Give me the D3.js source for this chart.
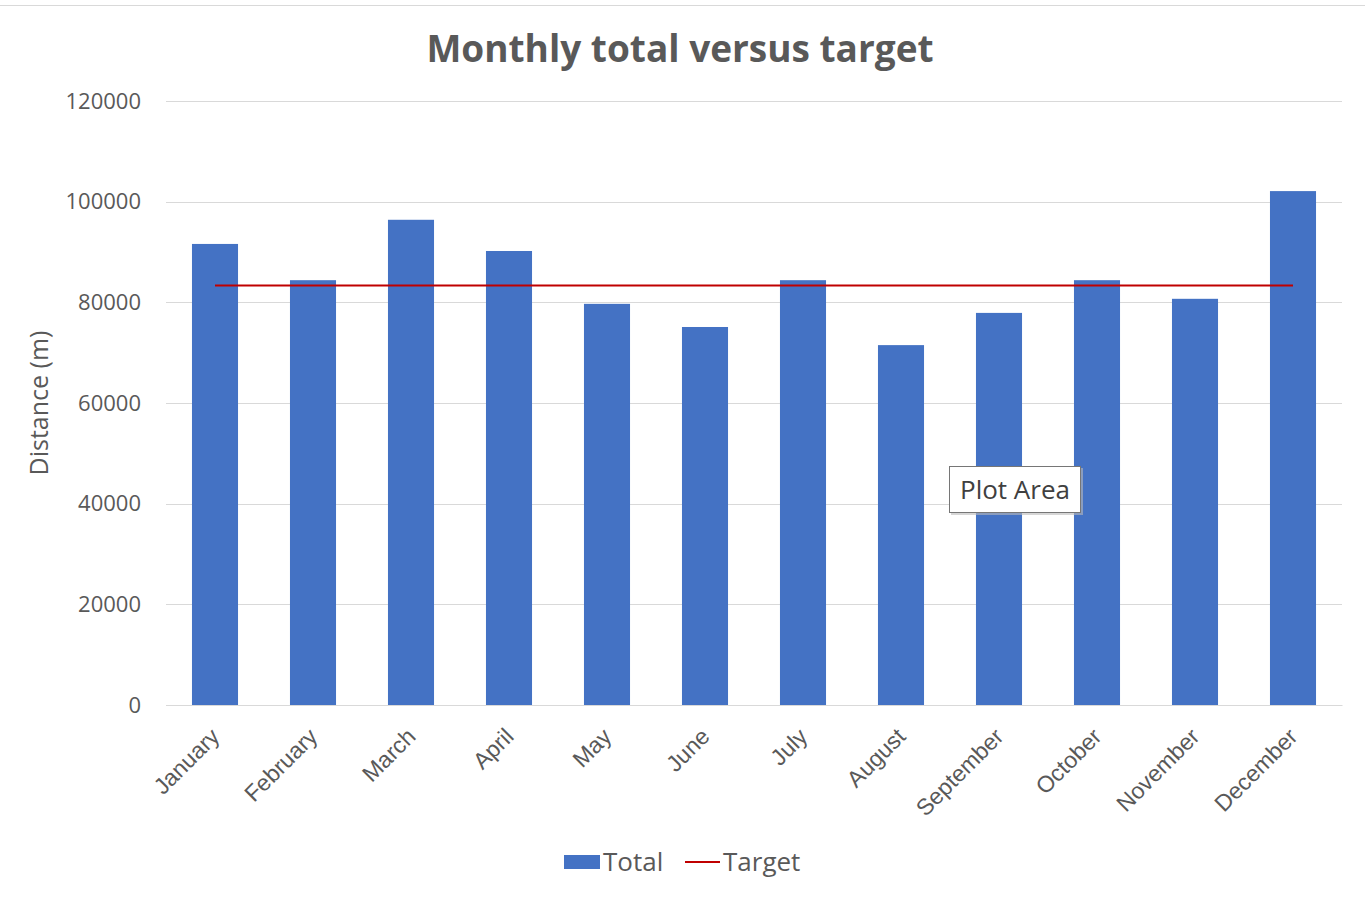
<!DOCTYPE html>
<html><head><meta charset="utf-8">
<script src="https://cdn.jsdelivr.net/npm/d3@7"></script>
<style>body{margin:0;background:#fff;}svg{display:block;font-family:"Open Sans","Noto Sans",sans-serif;}</style>
</head><body>
<svg id="c" width="1365" height="897"></svg>
<script>
const months = ["January","February","March","April","May","June","July","August","September","October","November","December"];
const totals = [91600, 84400, 96400, 90200, 79700, 75100, 84400, 71500, 77900, 84400, 80700, 102100];
const targets = [83333, 83333, 83333, 83333, 83333, 83333, 83333, 83333, 83333, 83333, 83333, 83333];
const yTicks = [0, 20000, 40000, 60000, 80000, 100000, 120000];

const svg = d3.select("#c");
const L = 166, R = 1342, T = 101, B = 705;
const x = d3.scaleBand().domain(months).range([L, R]).paddingInner(0.53).paddingOuter(0.265);
const y = d3.scaleLinear().domain([0, 120000]).range([B, T]);

// chart border top
svg.append("line").attr("x1",0).attr("x2",1365).attr("y1",5.5).attr("y2",5.5).attr("stroke","#d9d9d9");

// gridlines
svg.append("g").selectAll("line").data(yTicks).join("line")
  .attr("x1", L).attr("x2", R).attr("y1", d => Math.round(y(d))+0.5).attr("y2", d => Math.round(y(d))+0.5)
  .attr("stroke", "#d9d9d9").attr("stroke-width", 1);

// y axis labels
const ya = svg.append("g").attr("transform", `translate(${L},0)`)
  .call(d3.axisLeft(y).tickValues(yTicks).tickFormat(d3.format("d")).tickSize(0).tickPadding(25));
ya.select(".domain").remove();
ya.selectAll("text").attr("font-size", 22).attr("fill", "#595959").attr("font-family","Open Sans, sans-serif");

// bars
svg.append("g").selectAll("rect").data(months).join("rect")
  .attr("x", d => x(d)).attr("width", x.bandwidth())
  .attr("y", (d,i) => y(totals[i])).attr("height", (d,i) => B - y(totals[i]))
  .attr("fill", "#4472C4");

// target line
const line = d3.line().x((d,i) => x(months[i]) + x.bandwidth()/2).y(d => y(d));
svg.append("path").datum(targets).attr("d", line).attr("fill","none").attr("stroke","#C00000").attr("stroke-width",2);

// x axis
const xa = svg.append("g").attr("transform", `translate(0,${B})`)
  .call(d3.axisBottom(x).tickSize(0).tickPadding(0));
xa.select(".domain").attr("stroke","#d9d9d9");
xa.selectAll("text").attr("font-size", 23).attr("fill", "#595959")
  .attr("text-anchor","end").attr("dy", 0)
  .attr("transform", "translate(6,33) rotate(-45)");

// y axis title
svg.append("text").attr("transform", "translate(48,403) rotate(-90)")
  .attr("text-anchor","middle").attr("font-size", 25).attr("fill","#595959").text("Distance (m)");

// title
svg.append("text").attr("x", 680).attr("y", 62).attr("text-anchor","middle")
  .attr("font-size", 37).attr("font-weight","bold").attr("fill","#595959").text("Monthly total versus target");

// legend
const lg = svg.append("g");
lg.append("rect").attr("x",564).attr("y",855).attr("width",36).attr("height",14).attr("fill","#4472C4");
lg.append("text").attr("x",603).attr("y",871).attr("font-size",26).attr("fill","#595959").text("Total");
lg.append("line").attr("x1",685).attr("x2",720).attr("y1",862).attr("y2",862).attr("stroke","#C00000").attr("stroke-width",2);
lg.append("text").attr("x",723).attr("y",871).attr("font-size",26).attr("fill","#595959").text("Target");

// tooltip "Plot Area"
const tt = svg.append("g");
tt.append("rect").attr("x",951).attr("y",468).attr("width",132).attr("height",47).attr("fill","#bbb").attr("opacity",0.6);
tt.append("rect").attr("x",949.5).attr("y",466.5).attr("width",131).attr("height",46).attr("fill","#fff").attr("stroke","#767676");
tt.append("text").attr("x",1015).attr("y",499).attr("text-anchor","middle").attr("font-size",26).attr("fill","#404040").text("Plot Area");
</script>
</body></html>
